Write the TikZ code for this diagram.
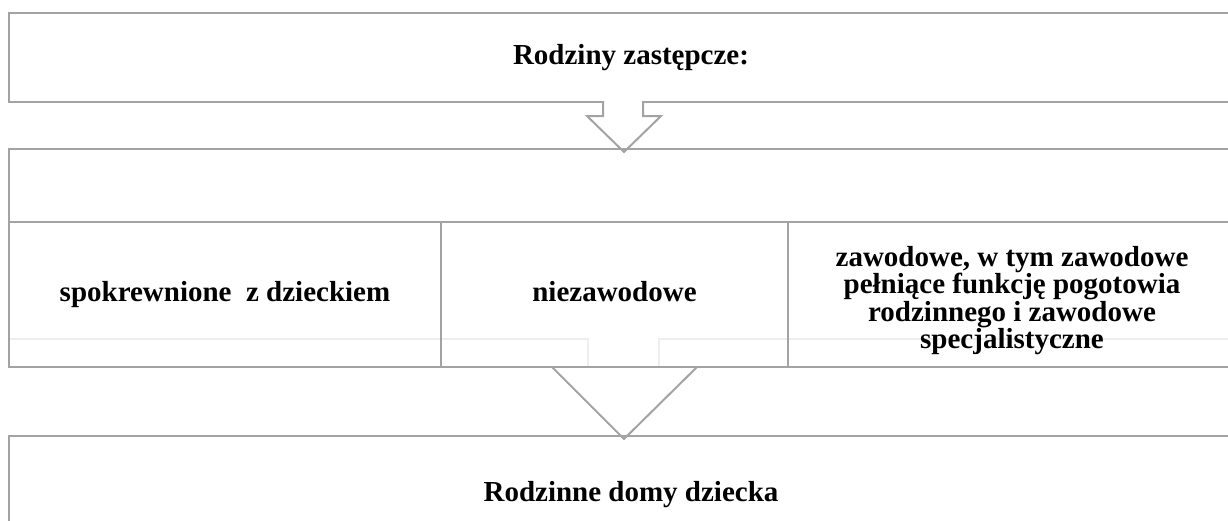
\documentclass[tikz,border=0pt]{standalone}
\usepackage{fontspec}
\setmainfont{Liberation Serif}
\usetikzlibrary{positioning}

\definecolor{framegray}{RGB}{163,163,163}
\definecolor{ghostgray}{RGB}{238,238,238}

\tikzset{
  frame/.style={draw=framegray, line width=2pt, outer sep=0pt, inner sep=0pt,
    font=\bfseries\fontsize{29}{27.3}\selectfont, align=center},
  oneline/.style={text height=19.7pt, text depth=6.3pt},
  ghost/.style={draw=ghostgray, line width=1.5pt},
  blockarrow/.style={draw=framegray, line width=2pt, line join=miter}
}

\begin{document}
\begin{tikzpicture}[x=1pt, y=-1pt]
    \useasboundingbox (0,0) rectangle (1228,520);
    \clip (0,0) rectangle (1228,520);

    % Top box
    \node (top) [frame, oneline, anchor=north west, minimum width=1244pt, minimum height=89pt] at (9,13) {Rodziny zastępcze:};

    % Arrow from the top box
    \path[fill=white] (603,100) -- (603,116) -- (587,116) -- (624,152) -- (661,116) -- (643,116) -- (643,100) -- cycle;
    \draw[blockarrow] (603,101) -- (603,116) -- (587,116) -- (624,152) -- (661,116) -- (643,116) -- (643,101);

    % Faint outline of the second arrow
    \draw[ghost] (9,339) -- (588,339) -- (588,367);
    \draw[ghost] (659,367) -- (659,339) -- (1240,339);

    % Middle box and its three cells
    \node (mid) [frame, anchor=north west, minimum width=1244pt, minimum height=73pt] at (9,149) {};
    \node (cell1) [frame, oneline, anchor=north west, minimum width=432pt, minimum height=145pt] at (mid.south west) {spokrewnione\ \ z dzieckiem};
    \node (cell2) [frame, oneline, right=0pt of cell1, minimum width=347pt, minimum height=145pt] {niezawodowe};
    \node (cell3) [frame, right=0pt of cell2, minimum width=448pt, minimum height=145pt] {};
    \node (cell3text) at ([yshift=-6pt]cell3.center) [font=\bfseries\fontsize{29}{27.3}\selectfont, align=center, inner sep=0pt] {zawodowe, w tym zawodowe\\pełniące funkcję pogotowia\\rodzinnego i zawodowe\\specjalistyczne};

    % Arrow to the bottom box
    \draw[blockarrow] (552,367) -- (624,439) -- (697,367);

    % Bottom box
    \node (bottom) [frame, oneline, anchor=north west, minimum width=1244pt, minimum height=118pt] at (9,436) {Rodzinne domy dziecka};
\end{tikzpicture}
\end{document}
